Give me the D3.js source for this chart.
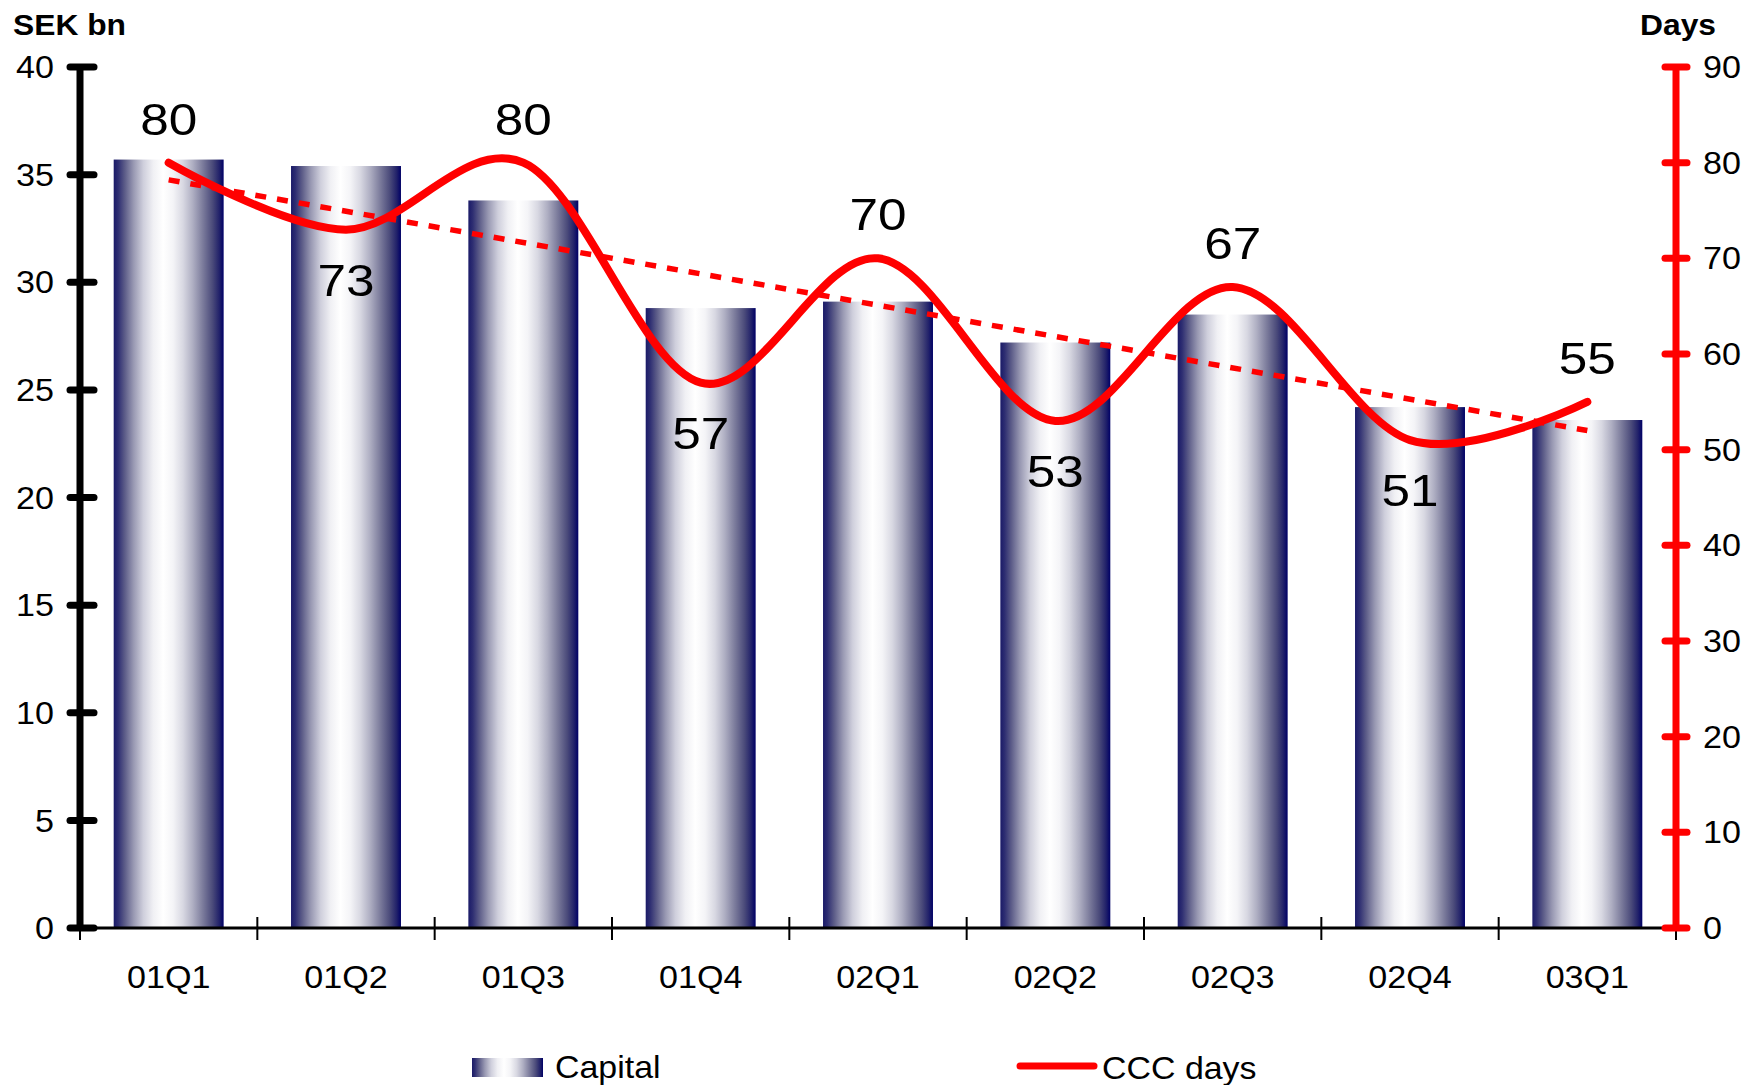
<!DOCTYPE html>
<html>
<head>
<meta charset="utf-8">
<script src="https://cdn.jsdelivr.net/npm/d3@7"></script>
<style>
  html, body { margin: 0; padding: 0; background: #fff; }
  svg { display: block; font-family: "Liberation Sans", Arial, sans-serif; }
</style>
</head>
<body>
<svg id="chart" width="1744" height="1085"></svg>
<script>
// ---- data ----
const quarters = ["01Q1", "01Q2", "01Q3", "01Q4", "02Q1", "02Q2", "02Q3", "02Q4", "03Q1"];
const capital = [35.7, 35.4, 33.8, 28.8, 29.1, 27.2, 28.5, 24.2, 23.6];
const cccDays = [80, 73, 80, 57, 70, 53, 67, 51, 55];
const labelSide = ["above", "below", "above", "below", "above", "below", "above", "below", "above"];
const trendDays = [78.2, 52.0]; // linear trendline endpoints (first & last quarter)
const leftTicks = [0, 5, 10, 15, 20, 25, 30, 35, 40];
const rightTicks = [0, 10, 20, 30, 40, 50, 60, 70, 80, 90];

// ---- layout ----
const svg = d3.select("#chart");
const xL = 80, xR = 1676, yB = 928, yT = 67;

const x = d3.scaleBand().domain(quarters).range([xL, xR]).padding(0);
const yL = d3.scaleLinear().domain([0, 40]).range([yB, yT]);
const yR = d3.scaleLinear().domain([0, 90]).range([yB, yT]);
const barW = x.bandwidth() * 0.62;
const cx = q => x(q) + x.bandwidth() / 2;

// text that is slightly wider than tall (as in the original export)
function stretchText(sel, xf, yf, sx) {
  return sel.attr("transform", (d, i) => `translate(${xf(d, i)},${yf(d, i)}) scale(${sx},1)`);
}

// gradient
const defs = svg.append("defs");
const grad = defs.append("linearGradient").attr("id", "barGrad")
  .attr("x1", "0%").attr("x2", "100%").attr("y1", "0%").attr("y2", "0%");
[
  [0, "#1a1a68"], [4, "#2e2e72"], [10, "#5c5c88"], [18, "#9898b2"],
  [27, "#cfcfdc"], [36, "#f0f0f4"], [45, "#ffffff"], [54, "#f4f4f7"],
  [63, "#d8d8e2"], [72, "#aeaec2"], [81, "#7c7c9c"], [90, "#4a4a7a"],
  [96, "#22226a"], [100, "#000066"]
].forEach(([o, c]) => grad.append("stop").attr("offset", o + "%").attr("stop-color", c));

// bars
svg.append("g").selectAll("rect").data(quarters).join("rect")
  .attr("x", (q) => cx(q) - barW / 2)
  .attr("width", barW)
  .attr("y", (q, i) => yL(capital[i]))
  .attr("height", (q, i) => yB - yL(capital[i]))
  .attr("fill", "url(#barGrad)");

// x axis
const xAxisG = svg.append("g");
xAxisG.append("line").attr("x1", xL).attr("x2", xR).attr("y1", yB).attr("y2", yB)
  .attr("stroke", "#000").attr("stroke-width", 3);
const bounds = quarters.map(q => x(q)).concat([xR]);
xAxisG.selectAll("line.tk").data(bounds).join("line").attr("class", "tk")
  .attr("x1", d => d).attr("x2", d => d).attr("y1", yB - 11).attr("y2", yB + 12)
  .attr("stroke", "#000").attr("stroke-width", 2);
stretchText(xAxisG.selectAll("text").data(quarters).join("text"), q => cx(q), () => 988, 1.1)
  .attr("text-anchor", "middle").attr("font-size", 31).attr("fill", "#000")
  .text(q => q);

// left axis
const lAx = svg.append("g");
lAx.append("line").attr("x1", xL).attr("x2", xL).attr("y1", yL(40)).attr("y2", yB)
  .attr("stroke", "#000").attr("stroke-width", 7);
lAx.selectAll("line.tk").data(leftTicks).join("line").attr("class", "tk")
  .attr("x1", xL - 10).attr("x2", xL + 14).attr("y1", d => yL(d)).attr("y2", d => yL(d))
  .attr("stroke", "#000").attr("stroke-width", 7).attr("stroke-linecap", "round");
stretchText(lAx.selectAll("text").data(leftTicks).join("text"), () => 54, d => yL(d), 1.1)
  .attr("dy", "0.36em")
  .attr("text-anchor", "end").attr("font-size", 31).attr("fill", "#000")
  .text(d => d);

// right axis
const rAx = svg.append("g");
rAx.append("line").attr("x1", xR).attr("x2", xR).attr("y1", yR(90)).attr("y2", yB)
  .attr("stroke", "#ff0000").attr("stroke-width", 7);
rAx.selectAll("line.tk").data(rightTicks).join("line").attr("class", "tk")
  .attr("x1", xR - 11).attr("x2", xR + 11).attr("y1", d => yR(d)).attr("y2", d => yR(d))
  .attr("stroke", "#ff0000").attr("stroke-width", 7).attr("stroke-linecap", "round");
stretchText(rAx.selectAll("text").data(rightTicks).join("text"), () => 1703, d => yR(d), 1.1)
  .attr("dy", "0.36em")
  .attr("text-anchor", "start").attr("font-size", 31).attr("fill", "#000")
  .text(d => d);

// axis titles
svg.append("text").attr("transform", "translate(13,35) scale(1.06,1)")
  .attr("font-size", 30).attr("font-weight", "bold").text("SEK bn");
svg.append("text").attr("transform", "translate(1716,35) scale(1.06,1)")
  .attr("font-size", 30).attr("font-weight", "bold")
  .attr("text-anchor", "end").text("Days");

// trendline (dashed)
const trendPts = [[cx(quarters[0]), yR(trendDays[0])], [cx(quarters[quarters.length - 1]), yR(trendDays[1])]];
svg.append("path").attr("d", d3.line()(trendPts))
  .attr("fill", "none").attr("stroke", "#ff0000").attr("stroke-width", 5.5)
  .attr("stroke-dasharray", "11,11");

// CCC line (smoothed)
const linePts = quarters.map((q, i) => [cx(q), yR(cccDays[i])]);
svg.append("path").attr("d", d3.line().curve(d3.curveCatmullRom.alpha(0))(linePts))
  .attr("fill", "none").attr("stroke", "#ff0000").attr("stroke-width", 8)
  .attr("stroke-linecap", "round").attr("stroke-linejoin", "round");

// data labels
stretchText(svg.append("g").selectAll("text").data(quarters).join("text"),
    q => cx(q),
    (q, i) => yR(cccDays[i]) + (labelSide[i] === "above" ? -28 : 66), 1.14)
  .attr("text-anchor", "middle").attr("font-size", 45).attr("fill", "#000")
  .text((q, i) => cccDays[i]);

// legend
const lg = svg.append("g");
lg.append("rect").attr("x", 472).attr("y", 1058).attr("width", 71).attr("height", 19).attr("fill", "url(#barGrad)");
lg.append("text").attr("transform", "translate(555,1078) scale(1.06,1)").attr("font-size", 32).text("Capital");
lg.append("line").attr("x1", 1020).attr("x2", 1094).attr("y1", 1066).attr("y2", 1066)
  .attr("stroke", "#ff0000").attr("stroke-width", 7).attr("stroke-linecap", "round");
lg.append("text").attr("transform", "translate(1102,1079) scale(1.06,1)").attr("font-size", 32).text("CCC days");
</script>
</body>
</html>
